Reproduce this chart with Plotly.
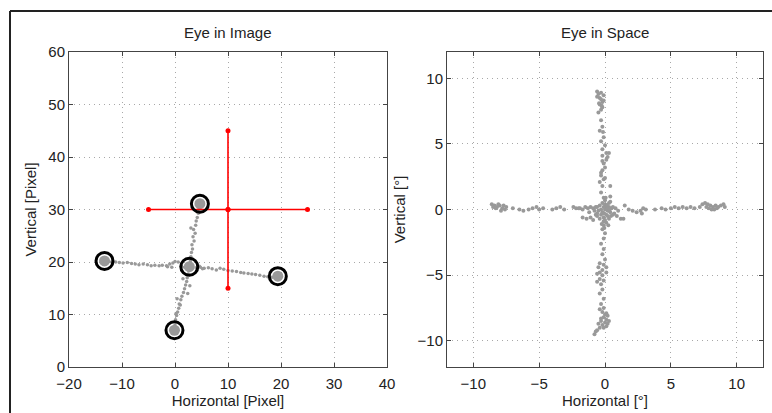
import plotly.graph_objects as go

# ---------------- Left panel: Eye in Image (pixel units) ----------------
img_path_x = [-13.5, -13.0, -12.6, -12.0, -11.2, -10.5, -9.8, -9.0, -8.2, -7.5, -6.8, -6.0,
              -5.2, -4.5, -3.8, -3.0, -2.4, -1.6, -1.0, -0.4, 0.0, 0.6, 1.2, 1.8,
              4.0, 4.8, 5.5, 6.3, 7.0, 7.8, 8.5, 9.2, 10.0, 10.8, 11.6, 12.4, 13.0, 13.8,
              14.5, 15.2, 16.0, 16.8, 17.5, 18.3, 19.0, 19.6,
              -0.2, 0.0, 0.1, 0.3, 0.5, 0.7, 0.8, 1.1, 1.3, 1.6, 1.8, 2.0, 2.2, 2.3, 2.5, 2.6,
              2.9, 3.0, 3.1, 3.3, 3.2, 3.6, 3.4, 3.8, 3.5, 3.9, 4.0, 4.2, 4.4, 4.5, 4.7, 4.8,
              0.4, 1.0, 2.4, 2.8, 0.2, -0.6, -1.4, 4.6, 5.2, 3.0, 1.5]
img_path_y = [20.3, 20.1, 20.2, 20.0, 20.0, 19.9, 19.8, 19.9, 19.7, 19.6, 19.5, 19.6,
              19.5, 19.3, 19.4, 19.3, 19.4, 19.3, 19.6, 19.8, 20.1, 20.0, 19.2, 19.0,
              18.9, 19.0, 18.8, 18.9, 18.7, 18.5, 18.8, 18.6, 18.4, 18.3, 18.2, 18.0, 17.9, 17.8,
              17.7, 17.6, 17.5, 17.3, 17.2, 17.1, 17.2, 17.3,
              7.2, 8.0, 9.0, 9.8, 10.5, 11.2, 12.0, 12.8, 13.5, 14.2, 14.9, 15.6, 16.3, 17.0, 17.7, 18.4,
              20.2, 21.0, 21.8, 22.5, 23.3, 24.0, 24.8, 25.5, 26.2, 27.0, 27.8, 28.5, 29.3, 30.0, 30.6, 31.2,
              13.0, 11.8, 14.0, 15.5, 10.2, 19.0, 19.1, 19.2, 18.7, 26.5, 16.8]

fix_x = [-13.3, 2.7, 4.7, 19.4, -0.1]
fix_y = [20.2, 19.1, 31.1, 17.3, 7.0]

cross_h_x = [-5, 10, 25]
cross_h_y = [30, 30, 30]
cross_v_x = [10, 10, 10]
cross_v_y = [45, 30, 15]

# ---------------- Right panel: Eye in Space (degrees) ----------------
spc_x = [
    # top cluster and upper arm
    -0.6, -0.5, -0.4, -0.3, -0.2, -0.1, -0.4, -0.2, -0.3, -0.5, -0.6, -0.1, -0.3, -0.45, -0.25,
    -0.3, -0.2, -0.4, -0.1, -0.3, 0.0, -0.2, 0.1, -0.2, 0.1, -0.1, 0.0, -0.2, -0.3, -0.1, -0.4,
    -0.2, 0.4, -0.3, 0.4, -0.1, 0.3, -0.2, 0.2, -0.3, 0.0, -0.15,
    # left arm
    -8.6, -8.4, -8.2, -8.0, -7.8, -7.6, -8.3, -7.9, -7.5, -8.1, -8.5, -7.7,
    -7.0, -6.5, -6.2, -5.8, -5.5, -5.2, -5.0, -4.7, -4.0, -3.7, -3.4, -3.1, -2.4, -2.2, -1.9,
    -1.7, -1.5, -1.3, -1.1, -0.9, -0.7, -1.7, -1.4, -1.1, -0.9, -0.7, -0.6, -2.0, -1.2, -0.8,
    # center
    0.0, 0.1, -0.1, 0.2, -0.2, 0.3, -0.3, 0.0, 0.1, -0.1, 0.2, -0.2, 0.4, -0.4, 0.5, -0.5,
    0.0, 0.1, -0.1, 0.3, 0.6, 0.6, -0.6, -0.6, 0.0, 0.1, -0.3, 0.3, 0.2, -0.1, 0.4, -0.4,
    0.25, -0.25, 0.05, -0.05, 0.15, -0.15, 0.35, 0.45,
    # right arm
    0.7, 0.9, 1.2, 1.4, 0.8, 1.0, 1.5, 1.8, 2.1, 2.4, 2.7, 2.9, 3.1, 2.8, 3.8, 4.3, 4.6, 5.0,
    5.3, 5.6, 5.9, 6.2, 6.5, 6.8, 7.2, 7.4, 7.6, 7.8, 8.0, 8.2, 8.4, 8.6, 8.8, 9.0, 7.9, 8.3,
    7.7, 9.1, 8.1, 8.5,
    # lower arm
    -0.1, -0.2, 0.0, -0.1, -0.3, -0.1, -0.2, 0.0, -0.4, -0.1, -0.5, -0.2, 0.1, -0.4, -0.6,
    -0.2, 0.1, -0.4, -0.6, -0.3, -0.1, -0.2, -0.4, -0.1, -0.3, -0.1, -0.4, -0.2, 0.1, 0.2,
    -0.1, 0.1, -0.3, 0.0, 0.2, -0.2, -0.5, 0.3, -0.4, -0.6, -0.8, -0.7, 0.1, -0.1, 0.0, -0.3,
]
spc_y = [
    9.0, 8.8, 8.5, 8.4, 8.2, 8.3, 8.0, 7.8, 7.6, 7.4, 8.6, 8.7, 8.9, 8.1, 7.9,
    6.8, 6.3, 6.0, 5.5, 5.2, 4.9, 4.6, 4.3, 4.1, 3.8, 3.5, 3.2, 3.0, 2.6, 2.3, 2.1,
    1.8, 1.8, 1.3, 1.0, 0.9, 4.3, 3.7, 4.0, 2.8, 2.4, 5.9,
    0.4, 0.3, 0.2, 0.3, 0.1, 0.0, 0.1, -0.1, 0.2, 0.4, 0.2, 0.3,
    0.1, 0.0, -0.1, 0.0, 0.1, 0.2, 0.0, 0.1, 0.0, 0.1, 0.2, 0.0, 0.2, 0.1, 0.1,
    0.0, 0.2, 0.1, 0.2, 0.1, 0.2, -0.6, -0.7, -0.6, -0.8, -0.4, -0.5, 0.1, -0.2, -0.1,
    0.0, 0.1, 0.2, -0.1, -0.2, 0.2, 0.0, 0.4, -0.4, -0.6, -0.5, 0.5, -0.2, 0.3, 0.1, -0.1,
    -0.8, -1.0, -0.9, -0.7, -0.4, 0.2, 0.2, -0.3, 0.7, 0.3, -0.4, 0.5, 0.0, -0.3, 0.6, -0.7,
    -1.2, -1.1, 0.9, -1.4, 0.35, -0.25, 0.0, -0.5,
    -0.3, -0.5, -0.7, -0.7, 0.1, -0.1, 0.3, 0.0, -0.1, -0.2, -0.1, 0.1, 0.0, -0.3, 0.0, 0.1,
    0.0, 0.1, 0.2, 0.1, 0.2, 0.1, 0.2, 0.1, 0.2, 0.4, 0.5, 0.4, 0.3, 0.2, 0.3, 0.2, 0.3, 0.4,
    0.1, 0.0, 0.2, 0.2, 0.0, 0.1,
    -1.2, -1.5, -1.8, -2.2, -2.6, -3.0, -3.4, -3.8, -4.1, -4.2, -4.4, -4.6, -4.4, -4.8, -4.9,
    -5.0, -4.8, -5.3, -5.5, -5.7, -5.4, -6.1, -6.4, -6.8, -7.2, -7.5, -7.6, -7.8, -7.9, -8.1,
    -8.2, -8.4, -8.5, -8.6, -8.7, -8.8, -8.7, -8.5, -9.0, -9.2, -9.5, -9.3, -8.9, -9.0, -8.0, -8.3,
]

GRAY = "#999999"
FONT = "Liberation Sans, Arial, sans-serif"
TXT = "#222222"

fig = go.Figure()

# left panel
fig.add_trace(go.Scatter(x=img_path_x, y=img_path_y, mode="markers",
                         marker=dict(size=3.5, color=GRAY), xaxis="x", yaxis="y",
                         showlegend=False, hoverinfo="skip"))
fig.add_trace(go.Scatter(x=fix_x, y=fix_y, mode="markers",
                         marker=dict(size=11, color=GRAY), xaxis="x", yaxis="y",
                         showlegend=False, hoverinfo="skip"))
fig.add_trace(go.Scatter(x=cross_h_x, y=cross_h_y, mode="lines+markers",
                         line=dict(color="#ff0000", width=1.6),
                         marker=dict(size=5, color="#ff0000"), xaxis="x", yaxis="y",
                         showlegend=False))
fig.add_trace(go.Scatter(x=cross_v_x, y=cross_v_y, mode="lines+markers",
                         line=dict(color="#ff0000", width=1.6),
                         marker=dict(size=5, color="#ff0000"), xaxis="x", yaxis="y",
                         showlegend=False))
fig.add_trace(go.Scatter(x=fix_x, y=fix_y, mode="markers",
                         marker=dict(size=17, color="black", symbol="circle-open",
                                     line=dict(color="black", width=3)),
                         xaxis="x", yaxis="y", showlegend=False))

# right panel
fig.add_trace(go.Scatter(x=spc_x, y=spc_y, mode="markers",
                         marker=dict(size=4, color=GRAY), xaxis="x2", yaxis="y2",
                         showlegend=False, hoverinfo="skip"))

axis_common = dict(
    showline=True, mirror="allticks", linecolor="#444444", linewidth=1,
    ticks="inside", ticklen=4, tickcolor="#444444",
    showgrid=True, gridcolor="#a8a8a8", griddash="1px,4px", gridwidth=1,
    zeroline=False, tickfont=dict(family=FONT, size=15, color=TXT),
    automargin=False,
)

W, H = 772, 413
fig.update_layout(
    width=W, height=H, margin=dict(l=0, r=0, t=0, b=0, autoexpand=False),
    paper_bgcolor="white", plot_bgcolor="white",
    font=dict(family=FONT, color=TXT),
    xaxis=dict(domain=[69 / W, 387 / W], range=[-20, 40], dtick=10, anchor="y",
               ticklabelstandoff=3,
               title=dict(text="Horizontal [Pixel]", font=dict(size=15), standoff=1),
               **axis_common),
    yaxis=dict(domain=[1 - 367 / H, 1 - 52 / H], range=[0, 60], dtick=10, anchor="x",
               title=dict(text="Vertical [Pixel]", font=dict(size=15), standoff=8),
               **axis_common),
    xaxis2=dict(domain=[447 / W, 763 / W], range=[-12, 12], tickvals=[-10, -5, 0, 5, 10],
                anchor="y2", ticklabelstandoff=3,
                title=dict(text="Horizontal [°]", font=dict(size=15), standoff=1),
                **axis_common),
    yaxis2=dict(domain=[1 - 367 / H, 1 - 52 / H], range=[-12, 12], tickvals=[-10, -5, 0, 5, 10],
                anchor="x2",
                title=dict(text="Vertical [°]", font=dict(size=15), standoff=8),
                **axis_common),
    annotations=[
        dict(text="Eye in Image", x=(69 + 387) / 2 / W, y=1 - 33 / H, xref="paper", yref="paper",
             xanchor="center", yanchor="middle",
             showarrow=False, font=dict(family=FONT, size=15, color=TXT)),
        dict(text="Eye in Space", x=(447 + 763) / 2 / W, y=1 - 33 / H, xref="paper", yref="paper",
             xanchor="center", yanchor="middle",
             showarrow=False, font=dict(family=FONT, size=15, color=TXT)),
    ],
    shapes=[
        dict(type="line", xref="paper", yref="paper", x0=10 / W, x1=1, y0=1 - 11 / H, y1=1 - 11 / H,
             line=dict(color=TXT, width=2)),
        dict(type="line", xref="paper", yref="paper", x0=10 / W, x1=10 / W, y0=0, y1=1 - 11 / H,
             line=dict(color=TXT, width=2)),
    ],
)

fig.write_html("out.html", config={"displayModeBar": False},
               post_script="document.body.style.margin='0';document.body.style.overflow='hidden';")
